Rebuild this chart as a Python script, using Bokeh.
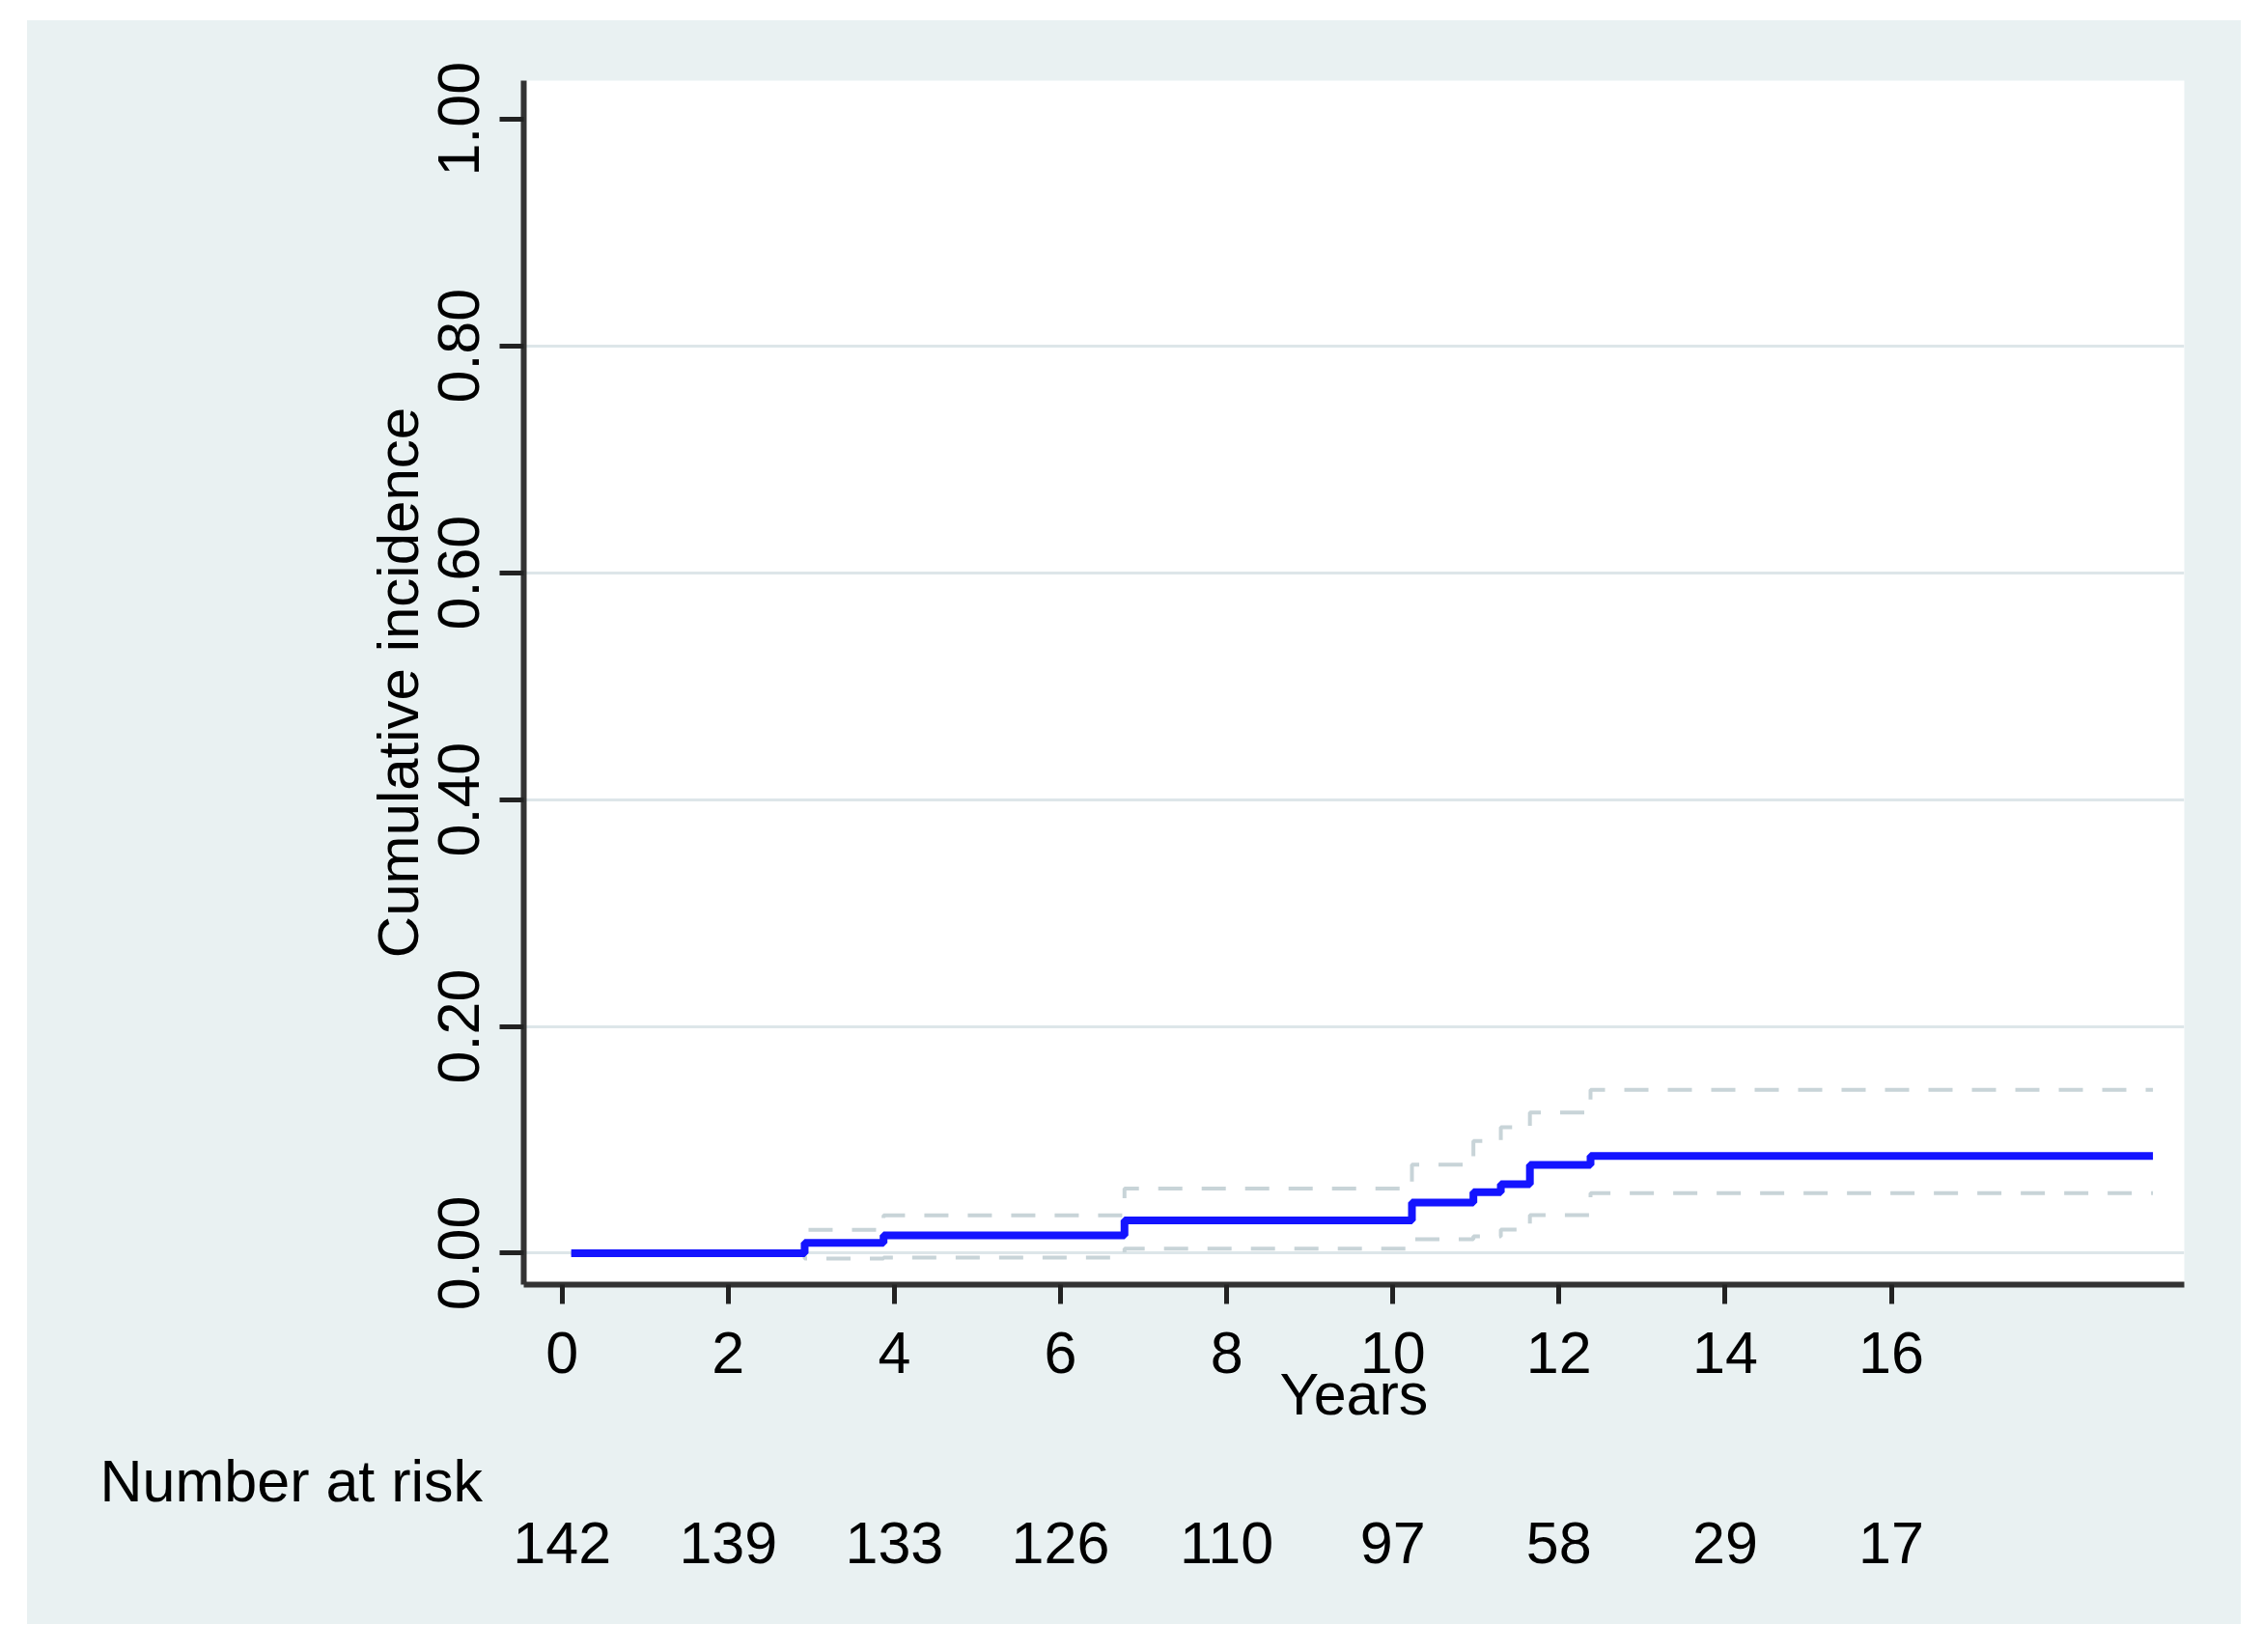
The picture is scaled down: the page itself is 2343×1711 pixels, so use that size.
from bokeh.plotting import figure
from bokeh.models import Range1d, FixedTicker, PrintfTickFormatter, ColumnDataSource
from bokeh.layouts import column
from bokeh.core.properties import value
from bokeh.embed import file_html
from bokeh.resources import INLINE

# ---- data ----
time_main = [0.11, 2.92, 3.87, 6.77, 10.23, 10.97, 11.30, 11.65, 12.38, 19.15]
ci_main = [0.0, 0.0092, 0.0157, 0.029, 0.0447, 0.0538, 0.0609, 0.0779, 0.0858, 0.0858]
ci_upper = [0.0, 0.0206, 0.0334, 0.057, 0.078, 0.099, 0.111, 0.124, 0.144, 0.144]
ci_lower = [0.0, -0.0048, -0.0038, 0.004, 0.0123, 0.0149, 0.0209, 0.0336, 0.053, 0.053]

x_ticks = [0, 2, 4, 6, 8, 10, 12, 14, 16]
y_ticks = [0.0, 0.2, 0.4, 0.6, 0.8, 1.0]
grid_ticks = [0.0, 0.2, 0.4, 0.6, 0.8]
risk_times = [0, 2, 4, 6, 8, 10, 12, 14, 16]
risk_counts = ["142", "139", "133", "126", "110", "97", "58", "29", "17"]
risk_title = "Number at risk"

FONT = "Liberation Sans"
BG = "#e9f1f2"

# layout constants (page pixels)
page_left, page_right, page_top, page_bottom = 28, 2321, 21, 1682
frame_left, frame_right = 542, 2262
x0, px_per_year = 581.7, 86.05
main_bottom = 1510
overlap = 40

# ---- main plot ----
p = figure(width=page_right - page_left, height=main_bottom - page_top,
           output_backend="svg", toolbar_location=None,
           x_range=Range1d((frame_left - x0) / px_per_year, (frame_right - x0) / px_per_year),
           y_range=Range1d(-0.0277, 1.0338),
           min_border_left=frame_left - page_left, min_border_right=page_right - frame_right,
           min_border_top=83 - page_top, min_border_bottom=180)
p.frame_align = False
p.background_fill_color = "white"
p.border_fill_color = BG
p.outline_line_color = None

p.xgrid.visible = False
p.ygrid.ticker = FixedTicker(ticks=grid_ticks)
p.ygrid.grid_line_color = "#dde6e9"
p.ygrid.grid_line_width = 3

for ax in (p.xaxis, p.yaxis):
    ax.axis_line_color = "#333333"
    ax.axis_line_width = 6
    ax.major_tick_line_color = "#222222"
    ax.major_tick_line_width = 5
    ax.major_tick_in = 0
    ax.minor_tick_line_color = None
    ax.major_label_text_font = FONT
    ax.major_label_text_font_size = "61px"
    ax.major_label_text_color = "black"
    ax.axis_label_text_font = FONT
    ax.axis_label_text_font_size = "61px"
    ax.axis_label_text_font_style = "normal"
    ax.axis_label_text_color = "black"

p.xaxis.ticker = FixedTicker(ticks=x_ticks)
p.xaxis.major_tick_out = 20
p.xaxis.major_label_standoff = 29
p.xaxis.axis_label = "Years"
p.xaxis.axis_label_standoff = -15

p.yaxis.ticker = FixedTicker(ticks=y_ticks)
p.yaxis.formatter = PrintfTickFormatter(format="%.2f")
p.yaxis.major_tick_out = 25
p.yaxis.major_label_standoff = 21
p.yaxis.major_label_orientation = "vertical"
p.yaxis.axis_label = "Cumulative incidence"
p.yaxis.axis_label_text_font_size = "60px"
p.yaxis.axis_label_standoff = 6

p.step(time_main, ci_upper, mode="after", line_color="#c8d4d8", line_width=4, line_dash="25 20")
p.step(time_main, ci_lower, mode="after", line_color="#c8d4d8", line_width=4, line_dash="25 20")
p.step(time_main, ci_main, mode="after", line_color="#1414ff", line_width=8)

# ---- number-at-risk panel: transparent, overlapping the bottom of the main plot ----
panel_top = main_bottom - overlap
panel_h = page_bottom - panel_top
p2 = figure(width=page_right - page_left, height=panel_h, output_backend="svg", toolbar_location=None,
            x_range=Range1d((page_left - x0) / px_per_year, (page_right - x0) / px_per_year),
            y_range=Range1d(0, 1), x_axis_type=None, y_axis_type=None,
            min_border=0)
p2.margin = (-overlap, 0, 0, 0)
p2.frame_align = False
p2.background_fill_color = None
p2.border_fill_color = None
p2.outline_line_color = None
p2.xgrid.visible = False
p2.ygrid.visible = False

def yrow(baseline_px):
    return 1 - (baseline_px - panel_top) / panel_h

p2.text(x=[(103 - x0) / px_per_year], y=[yrow(1533)], text=[risk_title],
        text_font=value(FONT), text_font_size="61px", text_color="black",
        text_align="left", text_baseline="alphabetic")
src = ColumnDataSource(dict(x=risk_times, n=risk_counts, y=[yrow(1597)] * len(risk_times)))
p2.text(x="x", y="y", text="n", source=src,
        text_font=value(FONT), text_font_size="61px", text_color="black",
        text_align="center", text_baseline="alphabetic")

layout = column(p, p2, spacing=0, margin=(page_top, 0, 0, page_left), styles={"background-color": BG})
open("out.html", "w").write(file_html(layout, INLINE))
